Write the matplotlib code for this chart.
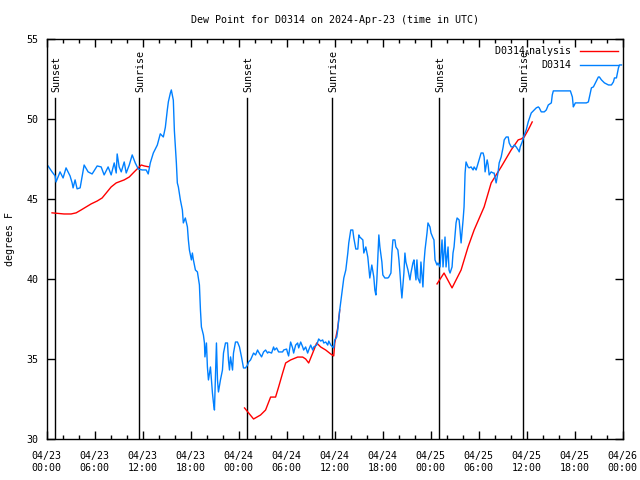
import numpy as np
import matplotlib
matplotlib.use('Agg')
import matplotlib.pyplot as plt

plt.rcParams['font.family'] = 'DejaVu Sans Mono'
plt.rcParams['font.size'] = 7.2
plt.rcParams['mathtext.fontset'] = 'custom'
plt.rcParams['mathtext.rm'] = 'DejaVu Sans Mono'

# hours since 2024-04-23 00:00 UTC
obs_h = [0.19, 0.69, 1.07, 1.19, 1.69, 2.07, 2.44, 2.94, 3.2, 3.32, 3.57, 3.82, 4.2, 4.7, 5.2, 5.7,
         6.33, 6.83, 7.2, 7.7, 8.08, 8.46, 8.71, 8.83, 9.08, 9.34, 9.71, 9.96, 10.34, 10.71, 11.09,
         11.47, 11.97, 12.46, 12.71, 12.97, 13.35, 13.85, 14.22, 14.6, 14.85, 15.1, 15.23, 15.48,
         15.6, 15.85, 15.98, 16.23, 16.35, 16.48, 16.73, 16.98, 17.1, 17.35, 17.61, 17.73, 17.86,
         18.11, 18.23, 18.36, 18.61, 18.86, 19.11, 19.24, 19.36, 19.61, 19.74, 19.8, 19.99, 20.11,
         20.24, 20.49, 20.74, 20.87, 20.99, 21.24, 21.37, 21.49, 21.74, 21.99, 22.12, 22.37, 22.62,
         22.74, 22.87, 23.0, 23.25, 23.37, 23.62, 23.87, 24.12, 24.37, 24.62, 24.87, 25.13, 25.25,
         25.5, 25.88, 26.13, 26.38, 26.5, 26.88, 27.13, 27.38, 27.63, 27.76, 28.13, 28.38, 28.51,
         28.76, 29.01, 29.51, 29.64, 30.01, 30.14, 30.26, 30.51, 30.76, 30.89, 31.14, 31.39, 31.52,
         31.77, 32.02, 32.14, 32.39, 32.64, 32.77, 33.02, 33.27, 33.4, 33.77, 34.02, 34.27, 34.52,
         34.65, 34.9, 35.15, 35.28, 35.53, 35.78, 35.9, 36.03, 36.28, 36.4, 36.53, 36.65, 36.78,
         37.03, 37.16, 37.41, 37.66, 37.78, 38.03, 38.28, 38.41, 38.66, 38.91, 39.04, 39.16, 39.54,
         39.66, 39.91, 40.16, 40.29, 40.41, 40.66, 40.91, 41.04, 41.17, 41.29, 41.54, 41.67, 41.92,
         42.04, 42.29, 42.67, 42.79, 43.05, 43.17, 43.3, 43.55, 43.67, 43.92, 44.05, 44.17, 44.3,
         44.42, 44.67, 44.8, 44.92, 45.18, 45.43, 45.55, 45.8, 45.93, 46.18, 46.3, 46.43, 46.68,
         46.8, 47.05, 47.18, 47.31, 47.56, 47.68, 47.93, 48.06, 48.31, 48.43, 48.56, 48.81, 48.93,
         49.19, 49.31, 49.44, 49.56, 49.69, 49.81, 49.94, 50.19, 50.31, 50.44, 50.69, 50.81, 50.94,
         51.19, 51.32, 51.57, 51.69, 51.82, 52.07, 52.19, 52.26, 52.32, 52.44, 52.69, 52.82, 53.07,
         53.32, 53.45, 53.7, 53.95, 54.07, 54.32, 54.57, 54.7, 54.82, 55.08, 55.2, 55.33, 55.58,
         55.83, 55.95, 56.2, 56.45, 56.58, 56.83, 57.08, 57.21, 57.46, 57.71, 57.83, 58.08, 58.33,
         58.46, 58.71, 58.96, 59.09, 59.21, 59.46, 59.71, 59.96, 60.21, 60.59, 60.96, 61.22, 61.47,
         61.59, 61.84, 62.22, 62.47, 62.72, 63.1, 63.22, 63.35, 65.48, 65.73, 65.85, 65.98, 66.1,
         67.48, 67.73, 67.86, 68.11, 68.36, 68.98, 69.11, 69.36, 69.74, 70.24, 70.61, 70.86, 70.99,
         71.24, 71.49, 71.62, 71.87]
obs_v = [47.09, 46.72, 46.47, 46.09, 46.72, 46.34, 46.97, 46.47, 46.03, 45.72, 46.22, 45.66, 45.72,
         47.15, 46.72, 46.59, 47.09, 47.03, 46.53, 47.03, 46.53, 47.28, 46.65, 47.84, 47.03, 46.72,
         47.34, 46.65, 47.15, 47.78, 47.28, 46.9, 46.84, 46.84, 46.59, 47.28, 47.9, 48.4, 49.1, 48.9,
         49.5, 50.6, 51.1, 51.65, 51.84, 51.2, 49.3, 47.28, 46.03, 45.78, 44.97, 44.34, 43.53, 43.84,
         43.28, 42.47, 41.84, 41.22, 41.65, 41.22, 40.59, 40.47, 39.66, 38.09, 37.03, 36.53, 36.03,
         35.16, 36.03, 34.53, 33.72, 34.53, 32.9, 32.28, 31.84, 36.03, 33.72, 32.97, 33.72, 34.34,
         35.4, 36.03, 36.03, 34.97, 34.34, 35.16, 34.34, 35.4, 36.09, 36.09, 35.78, 35.16, 34.47,
         34.47, 34.65, 34.84, 34.97, 35.4, 35.28, 35.59, 35.47, 35.16, 35.47, 35.59, 35.4, 35.47,
         35.4, 35.78, 35.59, 35.72, 35.47, 35.47, 35.59, 35.65, 35.4, 35.22, 36.09, 35.72, 35.4,
         35.9, 36.03, 35.72, 36.09, 35.78, 35.59, 35.78, 35.4, 35.59, 35.9, 35.59, 35.78, 35.9,
         36.28, 36.15, 36.22, 36.03, 36.09, 35.9, 36.15, 35.9, 35.78, 35.72, 36.22, 36.4, 36.84,
         37.47, 38.09, 38.59, 39.53, 40.09, 40.59, 41.65, 42.28, 43.09, 43.09, 42.59, 41.9, 41.9,
         42.78, 42.65, 42.47, 41.65, 42.03, 41.4, 40.72, 40.09, 40.9, 40.15, 39.34, 39.03, 39.97,
         42.78, 42.03, 41.09, 40.28, 40.09, 40.09, 40.15, 40.4, 41.65, 42.47, 42.47, 42.03, 41.84,
         41.22, 40.47, 39.53, 38.84, 40.4, 41.65, 41.09, 40.59, 39.97, 40.4, 41.03, 41.22, 39.97,
         41.22, 40.09, 39.78, 41.09, 39.53, 41.03, 41.84, 42.9, 43.53, 43.28, 42.9, 42.59, 42.47,
         41.22, 40.9, 41.03, 40.78, 41.65, 42.47, 40.78, 41.65, 42.65, 40.78, 42.03, 40.59, 40.4,
         40.78, 41.65, 42.03, 43.53, 43.84, 43.72, 43.09, 42.28, 43.72, 44.53, 45.78, 46.65, 47.34,
         47.03, 46.97, 47.03, 46.84, 47.03, 46.84, 47.28, 47.47, 47.9, 47.9, 47.65, 46.72, 47.47,
         47.15, 46.53, 46.72, 46.65, 46.65, 46.03, 46.72, 47.28, 47.65, 48.28, 48.72, 48.9, 48.9,
         48.53, 48.28, 48.28, 48.4, 48.28, 48.09, 47.97, 48.28, 48.59, 49.03, 49.34, 49.84, 50.4,
         50.59, 50.72, 50.78, 50.72, 50.47, 50.47, 50.59, 50.9, 51.03, 51.53, 51.78, 51.78, 51.4,
         50.78, 50.9, 51.03, 51.03, 51.09, 51.4, 51.97, 52.03, 52.65, 52.65, 52.47, 52.28, 52.15,
         52.15, 52.34, 52.59, 52.59, 53.22, 53.4, 53.4]

# analysis, three overnight pieces (nan = gap)
ana_h = [0.69, 2.19, 3.07, 3.7, 4.32, 4.95, 5.58, 6.33, 6.95, 7.46, 8.08, 8.71, 9.34, 9.71, 10.34,
         10.96, 11.59, 11.84, 12.22, 12.84, np.nan,
         24.75, 25.88, 26.75, 27.38, 28.01, 28.63, 29.01, 29.51, 29.89, 30.51, 31.39, 32.02, 32.39,
         32.77, 33.27, 33.77, 34.27, 34.9, 35.53, 35.9, 36.03, 36.4, 36.65, np.nan,
         48.81, 49.69, 50.69, 51.82, 52.69, 53.45, 54.7, 55.58, 56.83, 58.08, 58.96, 59.34, 59.71,
         60.21, 60.71]
ana_v = [44.16, 44.09, 44.09, 44.16, 44.34, 44.53, 44.72, 44.9, 45.09, 45.4, 45.78, 46.03, 46.15,
         46.22, 46.4, 46.72, 47.03, 47.15, 47.09, 47.03, np.nan,
         31.97, 31.28, 31.53, 31.84, 32.65, 32.65, 33.28, 34.15, 34.78, 34.97, 35.15, 35.15, 35.03,
         34.78, 35.4, 36.03, 35.78, 35.59, 35.34, 35.22, 36.03, 36.97, 38.09, np.nan,
         39.72, 40.4, 39.47, 40.59, 42.03, 43.09, 44.53, 46.03, 47.03, 48.09, 48.72, 48.78, 48.9,
         49.34, 49.84]

sunset_h = [1.1, 25.05, 49.1]
sunrise_h = [11.6, 35.65, 59.6]

tick_h = [0, 6, 12, 18, 24, 30, 36, 42, 48, 54, 60, 66, 72]
tick_lbl = ['04/23\n00:00', '04/23\n06:00', '04/23\n12:00', '04/23\n18:00',
            '04/24\n00:00', '04/24\n06:00', '04/24\n12:00', '04/24\n18:00',
            '04/25\n00:00', '04/25\n06:00', '04/25\n12:00', '04/25\n18:00',
            '04/26\n00:00']

fig = plt.figure(figsize=(6.4, 4.8), dpi=100)
ax = fig.add_axes([0.0727, 0.0844, 0.9, 0.8336])

for h in sunset_h:
    ax.plot([h, h], [30, 51.35], color='black', lw=1.0)
    ax.text(h + 0.15, 51.7, 'Sunset', rotation=90, ha='center', va='bottom')
for h in sunrise_h:
    ax.plot([h, h], [30, 51.35], color='black', lw=1.0)
    ax.text(h + 0.15, 51.7, 'Sunrise', rotation=90, ha='center', va='bottom')

ax.plot(ana_h, ana_v, color='#ff0000', lw=1.0, label=r'D0314$_\mathrm{A}$nalysis')
ax.plot(obs_h, obs_v, color='#0080ff', lw=1.0, label='D0314')

ax.set_xlim(0, 72)
ax.set_ylim(30, 55)
ax.set_xticks(tick_h)
ax.set_xticklabels(tick_lbl, linespacing=1.35)
ax.set_xticks(np.arange(0, 73, 2), minor=True)
ax.set_yticks([30, 35, 40, 45, 50, 55])
ax.tick_params(which='both', direction='in', top=True, right=True, colors='black')
ax.tick_params(which='major', length=6, width=1)
ax.tick_params(axis='x', which='major', pad=8)
ax.tick_params(axis='y', which='major', pad=6)
ax.tick_params(which='minor', length=3, width=1)
for s in ax.spines.values():
    s.set_linewidth(1)

ax.set_ylabel('degrees F', labelpad=8)
ax.set_title('Dew Point for D0314 on 2024-Apr-23 (time in UTC)', fontsize=7.2, pad=12)

leg = ax.legend(loc='upper right', frameon=False, markerfirst=False, handlelength=3.8,
                borderaxespad=0.1, labelspacing=0.2, handletextpad=0.8)

fig.savefig('out.png', dpi=100)
